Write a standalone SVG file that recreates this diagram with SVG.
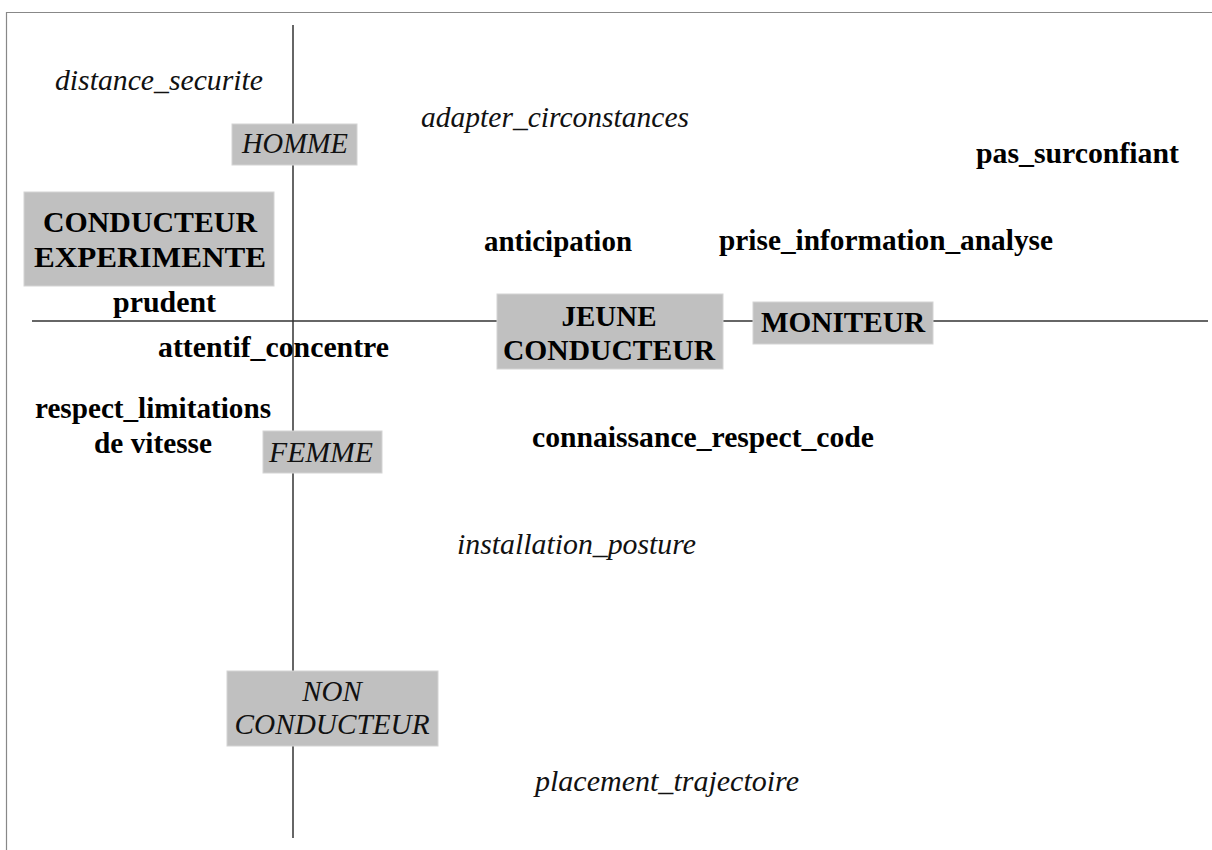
<svg xmlns="http://www.w3.org/2000/svg" width="1212" height="850" viewBox="0 0 1212 850">
<style>
.box{fill:#c0c0c0;stroke:#d4d4d4;stroke-width:1}
.b{font-family:"Liberation Serif","Times New Roman",serif;font-weight:bold;font-size:29px;fill:#000}
.i{font-family:"Liberation Serif","Times New Roman",serif;font-style:italic;font-size:29px;fill:#111}
.c{text-anchor:middle}
.axis{stroke:#333;stroke-width:1.5;fill:none}
.frame{stroke:#888;stroke-width:1.2;fill:none}
</style>
<rect width="1212" height="850" fill="#fff"/>
<path class="frame" d="M6.5,850 V12.5 H1212"/>
<g id="connectors">
<line class="axis" x1="293" y1="25" x2="293" y2="838"/>
<line class="axis" x1="32" y1="321" x2="1208" y2="321"/>
</g>
<g id="homme"><rect class="box" x="232" y="124" width="125" height="41"/><text class="i c" x="295" y="153" textLength="106" lengthAdjust="spacingAndGlyphs">HOMME</text></g>
<g id="conducteur-experimente"><rect class="box" x="24" y="192" width="250" height="94"/><text class="b c" x="150" y="232" textLength="214" lengthAdjust="spacingAndGlyphs">CONDUCTEUR</text><text class="b c" x="150" y="267" textLength="232" lengthAdjust="spacingAndGlyphs">EXPERIMENTE</text></g>
<g id="femme"><rect class="box" x="263" y="431" width="119" height="42"/><text class="i c" x="321" y="462" textLength="104" lengthAdjust="spacingAndGlyphs">FEMME</text></g>
<g id="jeune-conducteur"><rect class="box" x="497" y="294" width="226" height="75"/><text class="b c" x="609" y="326">JEUNE</text><text class="b c" x="609" y="360" textLength="212" lengthAdjust="spacingAndGlyphs">CONDUCTEUR</text></g>
<g id="moniteur"><rect class="box" x="753" y="302" width="180" height="42"/><text class="b c" x="843" y="332" textLength="164" lengthAdjust="spacingAndGlyphs">MONITEUR</text></g>
<g id="non-conducteur"><rect class="box" x="227" y="671" width="211" height="75"/><text class="i c" x="332" y="701">NON</text><text class="i c" x="332" y="734" textLength="195" lengthAdjust="spacingAndGlyphs">CONDUCTEUR</text></g>
<g id="distance-securite"><text class="i" x="55" y="90" textLength="208" lengthAdjust="spacingAndGlyphs">distance_securite</text></g>
<g id="adapter-circonstances"><text class="i" x="421" y="127" textLength="268" lengthAdjust="spacingAndGlyphs">adapter_circonstances</text></g>
<g id="pas-surconfiant"><text class="b" x="976" y="163" textLength="203" lengthAdjust="spacingAndGlyphs">pas_surconfiant</text></g>
<g id="anticipation"><text class="b" x="484" y="251" textLength="148" lengthAdjust="spacingAndGlyphs">anticipation</text></g>
<g id="prise-information-analyse"><text class="b" x="719" y="250" textLength="334" lengthAdjust="spacingAndGlyphs">prise_information_analyse</text></g>
<g id="prudent"><text class="b" x="113" y="312" textLength="103" lengthAdjust="spacingAndGlyphs">prudent</text></g>
<g id="attentif-concentre"><text class="b" x="158" y="357" textLength="231" lengthAdjust="spacingAndGlyphs">attentif_concentre</text></g>
<g id="respect-limitations"><text class="b c" x="153" y="418" textLength="236" lengthAdjust="spacingAndGlyphs">respect_limitations</text><text class="b c" x="153" y="453" textLength="118" lengthAdjust="spacingAndGlyphs">de vitesse</text></g>
<g id="connaissance-respect-code"><text class="b" x="532" y="447" textLength="342" lengthAdjust="spacingAndGlyphs">connaissance_respect_code</text></g>
<g id="installation-posture"><text class="i" x="457" y="554" textLength="239" lengthAdjust="spacingAndGlyphs">installation_posture</text></g>
<g id="placement-trajectoire"><text class="i" x="535" y="791" textLength="264" lengthAdjust="spacingAndGlyphs">placement_trajectoire</text></g>
</svg>
